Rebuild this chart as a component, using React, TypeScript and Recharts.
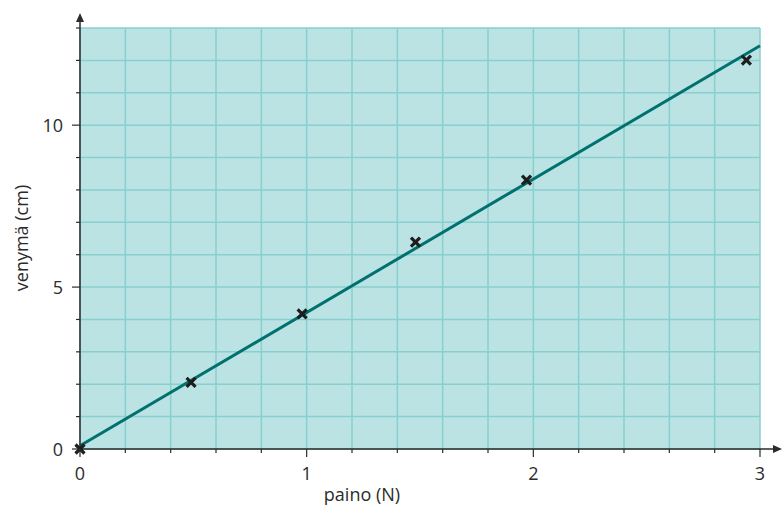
import React from 'react';
import {
    ComposedChart,
    Line,
    Scatter,
    XAxis,
    YAxis,
    CartesianGrid,
    ReferenceDot
} from 'recharts';

// mitatut pisteet
const paino = [0, 0.49, 0.98, 1.48, 1.97, 2.94];
const venyma = [0, 2.06, 4.17, 6.39, 8.3, 12.01];

// sovitettu suora
const fitX = [0, 3];
const fitY = [0.1, 12.45];

const xTicks = [0, 0.2, 0.4, 0.6, 0.8, 1, 1.2, 1.4, 1.6, 1.8, 2, 2.2, 2.4, 2.6, 2.8, 3];
const xLabels = [0, 1, 2, 3];
const yTicks = [0, 1, 2, 3, 4, 5, 6, 7, 8, 9, 10, 11, 12, 13];
const yLabels = [0, 5, 10];

const points = paino.map((x, i) => ({ x, y: venyma[i] }));
const fitLine = fitX.map((x, i) => ({ x, y: fitY[i] }));

const TEXT = '#2b2b2b';
const AXIS = '#2b2b2b';

// eslint-disable-next-line @typescript-eslint/no-explicit-any
const XTick = (props: any) => {
    const { x, y, payload } = props;
    const major = xLabels.includes(payload.value);
    return (
        <g>
            <line x1={x} y1={y} x2={x} y2={y + (major ? 8 : 4)} stroke={AXIS} strokeWidth={1.2} />
            {major && (
                <text x={x} y={y + 31} textAnchor="middle" fontSize={18} fill={TEXT}>
                    {payload.value}
                </text>
            )}
        </g>
    );
};

// eslint-disable-next-line @typescript-eslint/no-explicit-any
const YTick = (props: any) => {
    const { x, y, payload } = props;
    const major = yLabels.includes(payload.value);
    return (
        <g>
            <line x1={x} y1={y} x2={x - (major ? 8 : 4)} y2={y} stroke={AXIS} strokeWidth={1.2} />
            {major && (
                <text x={x - 17} y={y + 6.5} textAnchor="end" fontSize={18} fill={TEXT}>
                    {payload.value}
                </text>
            )}
        </g>
    );
};

// eslint-disable-next-line @typescript-eslint/no-explicit-any
const Cross = (props: any) => {
    const { cx, cy } = props;
    const r = 4.5;
    return (
        <g stroke="#1e1e1e" strokeWidth={3.2} strokeLinecap="butt">
            <line x1={cx - r} y1={cy - r} x2={cx + r} y2={cy + r} />
            <line x1={cx - r} y1={cy + r} x2={cx + r} y2={cy - r} />
        </g>
    );
};

// eslint-disable-next-line @typescript-eslint/no-explicit-any
const UpArrow = (props: any) => {
    const { cx, cy } = props;
    return (
        <g>
            <line x1={cx} y1={cy} x2={cx} y2={cy - 8} stroke={AXIS} strokeWidth={1.5} />
            <polygon points={`${cx},${cy - 15} ${cx - 4},${cy - 6} ${cx + 4},${cy - 6}`} fill={AXIS} />
        </g>
    );
};

// eslint-disable-next-line @typescript-eslint/no-explicit-any
const RightArrow = (props: any) => {
    const { cx, cy } = props;
    return (
        <g>
            <line x1={cx} y1={cy} x2={cx + 14} y2={cy} stroke={AXIS} strokeWidth={1.5} />
            <polygon points={`${cx + 22},${cy} ${cx + 13},${cy - 4} ${cx + 13},${cy + 4}`} fill={AXIS} />
        </g>
    );
};

export default function App() {
    return (
        <div style={{ position: 'absolute', left: 0, top: 0, fontFamily: '"Open Sans", sans-serif' }}>
            <ComposedChart
                width={782}
                height={508}
                margin={{ top: 28, right: 22, bottom: 0, left: 0 }}
            >
                <CartesianGrid
                    fill="#bbe3e4"
                    fillOpacity={1}
                    stroke="#88cfd0"
                    strokeWidth={1.5}
                    horizontalValues={yTicks}
                    verticalValues={xTicks}
                />
                <XAxis
                    type="number"
                    dataKey="x"
                    domain={[0, 3]}
                    ticks={xTicks}
                    interval={0}
                    height={59}
                    tickSize={0}
                    tickMargin={0}
                    tickLine={false}
                    axisLine={{ stroke: AXIS, strokeWidth: 1.5 }}
                    tick={<XTick />}
                    label={{
                        content: () => (
                            <text x={362} y={501} textAnchor="middle" fontSize={18} fill={TEXT}>
                                paino (N)
                            </text>
                        )
                    }}
                />
                <YAxis
                    type="number"
                    dataKey="y"
                    domain={[0, 13]}
                    ticks={yTicks}
                    interval={0}
                    width={80}
                    tickSize={0}
                    tickMargin={0}
                    tickLine={false}
                    axisLine={{ stroke: AXIS, strokeWidth: 1.5 }}
                    tick={<YTick />}
                    label={{
                        content: () => (
                            <text
                                x={28}
                                y={238}
                                textAnchor="middle"
                                fontSize={18}
                                fill={TEXT}
                                transform="rotate(-90 28 238)"
                            >
                                venymä (cm)
                            </text>
                        )
                    }}
                />
                <Line
                    data={fitLine}
                    dataKey="y"
                    type="linear"
                    stroke="#00716f"
                    strokeWidth={3}
                    dot={false}
                    activeDot={false}
                    isAnimationActive={false}
                />
                <Scatter data={points} dataKey="y" shape={<Cross />} isAnimationActive={false} />
                <ReferenceDot x={0} y={13} shape={<UpArrow />} ifOverflow="visible" />
                <ReferenceDot x={3} y={0} shape={<RightArrow />} ifOverflow="visible" />
            </ComposedChart>
        </div>
    );
}
